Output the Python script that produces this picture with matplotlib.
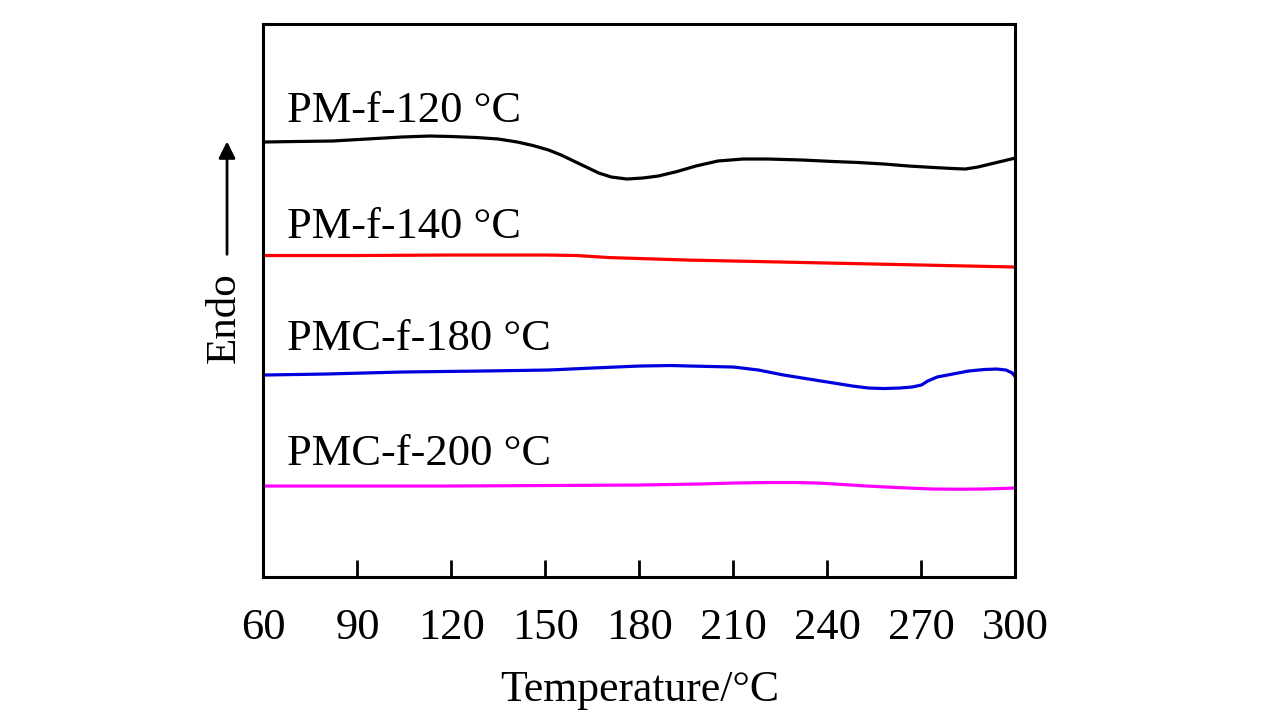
import matplotlib
matplotlib.use("Agg")
from matplotlib import pyplot as plt

plt.rcParams['font.family'] = ['Liberation Serif', 'DejaVu Serif']

# temperature (°C) and signal (arbitrary units, endo up)
t_120 = [60, 70, 82, 93, 104, 113, 120, 128, 135, 141, 146, 151, 155, 159, 163, 167, 171, 176, 181, 186,
         192, 198, 205, 213, 221, 232, 242, 250, 258, 266, 274, 280, 284, 288, 292, 296, 300]
s_120 = [435, 435.5, 436, 438, 440, 441, 440.5, 439.5, 438, 435, 431.5, 427, 422, 416, 410, 404, 400, 398, 399, 401,
         405.5, 411, 416, 418, 418, 417, 415.5, 414.5, 413, 411, 409.5, 408.5, 408, 410, 413, 416, 419]

t_140 = [60, 90, 120, 150, 160, 165, 170, 180, 195, 210, 225, 240, 255, 270, 285, 300]
s_140 = [321.5, 321.5, 322, 322, 321.5, 320.5, 319.5, 318.5, 317, 316, 315, 314, 313, 312, 311, 310]

t_180 = [60, 80, 104, 130, 151, 165, 180, 190, 196, 203, 210, 218, 226, 234, 242, 248, 253, 258, 263, 267,
         270, 272, 275, 280, 285, 290, 294, 297, 299, 300]
s_180 = [202, 203, 205, 206, 207, 209, 211, 211.5, 211, 210.5, 210, 207, 202, 198, 194, 191, 189, 188.5, 189, 190,
         192, 196, 200, 203, 206, 207.5, 208, 207, 204, 200]

t_200 = [60, 90, 120, 150, 180, 199, 210, 221, 230, 237, 245, 252.6, 262, 273.7, 282, 289.7, 295, 300]
s_200 = [91, 91, 91, 91.5, 92, 93, 94, 94.5, 94.5, 94, 92.5, 91, 89.5, 88, 87.8, 88, 88.5, 89]

names = ['PM-f-120 °C', 'PM-f-140 °C', 'PMC-f-180 °C', 'PMC-f-200 °C']
colors = ['black', 'red', '#0000dd', '#ff00ff']
label_y = [455, 339, 227, 112]

fig = plt.figure(figsize=(12.76, 7.26), dpi=100)
ax = fig.add_axes([0.2065, 0.2052, 0.5893, 0.7624])

curves = [(t_120, s_120), (t_140, s_140), (t_180, s_180), (t_200, s_200)]
for (t, s), c, n, ly in zip(curves, colors, names, label_y):
    ax.plot(t, s, color=c, lw=2.3)
    ax.text(67.5, ly, n, fontsize=32, va='baseline', ha='left')

ax.set_xlim(60, 300)
ax.set_ylim(0, 553.5)
ax.set_xticks(range(60, 301, 30))
ax.set_yticks([])
ax.tick_params(axis='x', direction='in', length=12, width=2, labelsize=32, pad=22)
for sp in ax.spines.values():
    sp.set_linewidth(2.2)

ax.set_xlabel('Temperature/°C', fontsize=31.5, labelpad=16)

ax.text(-0.0525, 0.468, 'Endo', fontsize=31, rotation=90, ha='center', va='center',
        transform=ax.transAxes)
ax.annotate('', xy=(-0.0485, 0.792), xytext=(-0.0485, 0.578),
            xycoords='axes fraction', textcoords='axes fraction',
            arrowprops=dict(arrowstyle='-|>', color='black', lw=2, mutation_scale=25))

fig.savefig('out.png', dpi=100)
